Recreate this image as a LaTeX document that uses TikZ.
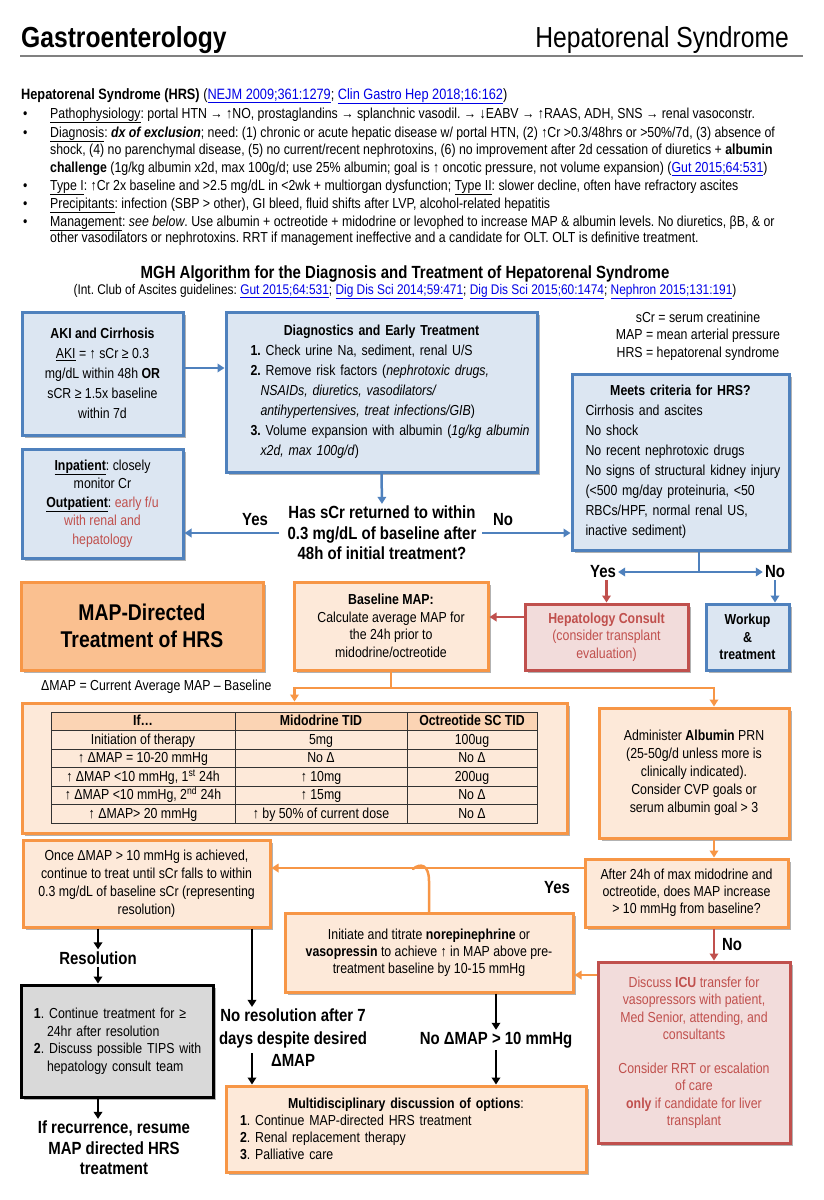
\documentclass[tikz,border=0pt]{standalone}
\usepackage{fontspec}
\setmainfont{Liberation Sans}[FakeStretch=0.85]
\usetikzlibrary{arrows.meta,shadows,calc}
\definecolor{blueB}{RGB}{79,129,189}
\definecolor{blueF}{RGB}{220,230,242}
\definecolor{orB}{RGB}{247,150,70}
\definecolor{orF}{RGB}{253,233,217}
\definecolor{orM}{RGB}{250,192,144}
\definecolor{orH}{RGB}{251,212,180}
\definecolor{redB}{RGB}{192,80,77}
\definecolor{redF}{RGB}{242,220,219}
\definecolor{redT}{RGB}{192,80,77}
\definecolor{grayF}{RGB}{217,217,217}
\definecolor{linkC}{RGB}{0,0,230}
\definecolor{ruleC}{RGB}{128,128,128}
\newcommand\fsz[2]{\fontsize{#1}{#2}\selectfont}
\newcommand\lnk[1]{\textcolor{linkC}{\underline{#1}}}
\frenchspacing
\begin{document}
\begin{tikzpicture}[x=1pt,y=-1pt,
  every node/.style={inner sep=0pt},
  box/.style={draw, line width=3pt, align=center, inner sep=0pt,
    drop shadow={shadow xshift=2.5pt,shadow yshift=-2.5pt,opacity=0.3,fill=black}},
  bluebox/.style={box, draw=blueB, fill=blueF},
  orbox/.style={box, draw=orB, fill=orF},
  redbox/.style={box, draw=redB, fill=redF, text=redT},
  graybox/.style={box, draw=black, fill=grayF},
  arr/.style={line width=2.5pt, -{Triangle[length=7pt,width=8.5pt]}},
  barr/.style={arr, draw=blueB},
  oarr/.style={arr, draw=orB},
  rarr/.style={arr, draw=redB},
  karr/.style={arr, draw=black},
  bline/.style={line width=2.5pt, draw=blueB},
  oline/.style={line width=2.5pt, draw=orB},
  lbl/.style={font=\fsz{17.6}{21.5}\bfseries, align=center, inner sep=2pt},
  btxt/.style={anchor=base west, font=\fsz{14.5}{18}},
  tcell/.style={font=\fsz{14.5}{16}, text height=10.5pt, text depth=3pt}
]
\useasboundingbox (0,0) rectangle (824,1200);
\fill[white] (0,0) rectangle (824,1200);

% ---------- header ----------
\node[anchor=base west, font=\fsz{29}{30}\bfseries] (gastro) at (21,47) {Gastroenterology};
\node[anchor=base east, font=\fsz{29}{30}] (hrstitle) at (789,47) {Hepatorenal Syndrome};
\draw[ruleC, line width=2pt] (20,56) -- (803,56);

\node[btxt, font=\fsz{15}{18}] (hrsline) at (21,99) {\textbf{Hepatorenal Syndrome (HRS)} (\lnk{NEJM 2009;361:1279}; \lnk{Clin Gastro Hep 2018;16:162})};

\node[btxt] (bu1) at (23,118) {•};
\node[btxt] (l1) at (50,118) {\underline{Pathophysiology}: portal HTN → ↑NO, prostaglandins → splanchnic vasodil. → ↓EABV → ↑RAAS, ADH, SNS → renal vasoconstr.};
\node[btxt] (bu2) at (23,137) {•};
\node[btxt] (l2) at (50,137) {\underline{Diagnosis}: \textbf{\textit{dx of exclusion}}; need: (1) chronic or acute hepatic disease w/ portal HTN, (2) ↑Cr >0.3/48hrs or >50\%/7d, (3) absence of};
\node[btxt] (l3) at (50,154) {shock, (4) no parenchymal disease, (5) no current/recent nephrotoxins, (6) no improvement after 2d cessation of diuretics + \textbf{albumin}};
\node[btxt] (l4) at (50,172) {\textbf{challenge} (1g/kg albumin x2d, max 100g/d; use 25\% albumin; goal is ↑ oncotic pressure, not volume expansion) (\lnk{Gut 2015;64:531})};
\node[btxt] (bu3) at (23,190) {•};
\node[btxt] (l5) at (50,190) {\underline{Type I}: ↑Cr 2x baseline and >2.5 mg/dL in <2wk + multiorgan dysfunction; \underline{Type II}: slower decline, often have refractory ascites};
\node[btxt] (bu4) at (23,208) {•};
\node[btxt] (l6) at (50,208) {\underline{Precipitants}: infection (SBP > other), GI bleed, fluid shifts after LVP, alcohol-related hepatitis};
\node[btxt] (bu5) at (23,226) {•};
\node[btxt] (l7) at (50,226) {\underline{Management}: \textit{see below}. Use albumin + octreotide + midodrine or levophed to increase MAP \& albumin levels. No diuretics, βB, \& or};
\node[btxt] (l8) at (50,242) {other vasodilators or nephrotoxins. RRT if management ineffective and a candidate for OLT. OLT is definitive treatment.};

% ---------- algorithm title ----------
\node[anchor=base, font=\fsz{17.6}{20}\bfseries] (algtitle) at (405,278) {MGH Algorithm for the Diagnosis and Treatment of Hepatorenal Syndrome};
\node[anchor=base, font=\fsz{14}{17}] (algsub) at (405,294) {(Int. Club of Ascites guidelines: \lnk{Gut 2015;64:531}; \lnk{Dig Dis Sci 2014;59:471}; \lnk{Dig Dis Sci 2015;60:1474}; \lnk{Nephron 2015;131:191})};

% ---------- blue section ----------
\node[bluebox, minimum width=161pt, minimum height=123pt, font=\fsz{14.5}{20}] (aki) at (102.5,373.5)
 {\textbf{AKI and Cirrhosis}\\\underline{AKI} = ↑ sCr ≥ 0.3\\mg/dL within 48h \textbf{OR}\\sCR ≥ 1.5x baseline\\within 7d};

\node[bluebox, minimum width=311pt, minimum height=160pt, text width=262pt, align=left, font=\fsz{14.5}{20}] (diag) at (381.5,392)
 {\makebox[\linewidth]{\textbf{Diagnostics and Early Treatment}}\\
  \mbox{\textbf{1.} Check urine Na, sediment, renal U/S}\\
  \mbox{\textbf{2.} Remove risk factors (\textit{nephrotoxic drugs,}}\\
  \mbox{\hspace*{10pt}\textit{NSAIDs, diuretics, vasodilators/}}\\
  \mbox{\hspace*{10pt}\textit{antihypertensives, treat infections/GIB})}\\
  \mbox{\textbf{3.} Volume expansion with albumin (\textit{1g/kg albumin}}\\
  \mbox{\hspace*{10pt}\textit{x2d, max 100g/d})}};

\node[font=\fsz{14.5}{17.5}, align=center] (legend) at (698,336)
 {sCr = serum creatinine\\MAP = mean arterial pressure\\HRS = hepatorenal syndrome};

\node[bluebox, minimum width=217pt, minimum height=176pt, text width=190pt, align=left, font=\fsz{14.5}{20}] (meets) at (680.5,462)
 {\makebox[\linewidth]{\textbf{Meets criteria for HRS?}}\\\mbox{Cirrhosis and ascites}\\\mbox{No shock}\\\mbox{No recent nephrotoxic drugs}\\\mbox{No signs of structural kidney injury}\\\mbox{(<500 mg/day proteinuria, <50}\\\mbox{RBCs/HPF, normal renal US,}\\\mbox{inactive sediment)}};

\node[bluebox, minimum width=161pt, minimum height=109pt, font=\fsz{14.5}{18.5}] (inpat) at (102.5,503.5)
 {\underline{\textbf{Inpatient}}: closely\\monitor Cr\\\underline{\textbf{Outpatient}}: \textcolor{redT}{early f/u}\\\textcolor{redT}{with renal and}\\\textcolor{redT}{hepatology}};

\node[lbl, font=\fsz{17.6}{20.5}\bfseries] (quest) at (382,533) {Has sCr returned to within\\0.3 mg/dL of baseline after\\48h of initial treatment?};
\node[lbl] (yes1) at (255,520) {Yes};
\node[lbl] (no1) at (503,520) {No};
\node[lbl] (yes2) at (603,572) {Yes};
\node[lbl] (no2) at (775,572) {No};

% ---------- orange section ----------
\node[box, draw=orB, fill=orM, minimum width=242pt, minimum height=88pt, font=\fsz{22.8}{27}\bfseries] (mapd) at (142,626) {MAP-Directed\\Treatment of HRS};
\node[orbox, minimum width=194pt, minimum height=88pt, font=\fsz{14.5}{17.5}] (basemap) at (391,626)
 {\textbf{Baseline MAP:}\\Calculate average MAP for\\the 24h prior to\\midodrine/octreotide};
\node[redbox, minimum width=163pt, minimum height=66pt, font=\fsz{14.5}{17.5}] (hep) at (606.5,637)
 {\textbf{Hepatology Consult}\\(consider transplant\\evaluation)};
\node[bluebox, minimum width=83pt, minimum height=66pt, font=\fsz{14.5}{17.5}\bfseries] (workup) at (747.5,637) {Workup\\\&\\treatment};

\node[anchor=west, font=\fsz{14.5}{17}] (dmap) at (41,687) {ΔMAP = Current Average MAP – Baseline};

\node[orbox, minimum width=545pt, minimum height=130pt] (tbox) at (294.5,768) {};
\fill[orH] (51,712) rectangle (537,730.5);
\draw[black!80, line width=0.9pt] (51,712) rectangle (537,823);
\foreach \yy in {730.5,749,767.5,786,804.5} \draw[black!80, line width=0.7pt] (51,\yy) -- (537,\yy);
\foreach \xx in {235,407} \draw[black!80, line width=0.7pt] (\xx,712) -- (\xx,823);
\node[tcell, font=\fsz{14.5}{16}\bfseries] (t00) at (143,722) {If…};
\node[tcell, font=\fsz{14.5}{16}\bfseries] (t01) at (321,722) {Midodrine TID};
\node[tcell, font=\fsz{14.5}{16}\bfseries] (t02) at (472,722) {Octreotide SC TID};
\node[tcell] (t10) at (143,740.5) {Initiation of therapy};
\node[tcell] (t11) at (321,740.5) {5mg};
\node[tcell] (t12) at (472,740.5) {100ug};
\node[tcell] (t20) at (143,759) {↑ ΔMAP = 10-20 mmHg};
\node[tcell] (t21) at (321,759) {No Δ};
\node[tcell] (t22) at (472,759) {No Δ};
\node[tcell] (t30) at (143,777.5) {↑ ΔMAP <10 mmHg, 1\textsuperscript{st} 24h};
\node[tcell] (t31) at (321,777.5) {↑ 10mg};
\node[tcell] (t32) at (472,777.5) {200ug};
\node[tcell] (t40) at (143,796) {↑ ΔMAP <10 mmHg, 2\textsuperscript{nd} 24h};
\node[tcell] (t41) at (321,796) {↑ 15mg};
\node[tcell] (t42) at (472,796) {No Δ};
\node[tcell] (t50) at (143,814.5) {↑ ΔMAP> 20 mmHg};
\node[tcell] (t51) at (321,814.5) {↑ by 50\% of current dose};
\node[tcell] (t52) at (472,814.5) {No Δ};

\node[orbox, minimum width=190pt, minimum height=130pt, font=\fsz{14.5}{18}] (alb) at (694,773)
 {Administer \textbf{Albumin} PRN\\(25-50g/d unless more is\\clinically indicated).\\Consider CVP goals or\\serum albumin goal > 3};
\node[orbox, minimum width=203pt, minimum height=68pt, font=\fsz{14.5}{17}] (after) at (686.5,893)
 {After 24h of max midodrine and\\octreotide, does MAP increase\\> 10 mmHg from baseline?};
\node[orbox, minimum width=247pt, minimum height=87pt, font=\fsz{14.5}{18}] (once) at (146.5,883.5)
 {Once ΔMAP > 10 mmHg is achieved,\\continue to treat until sCr falls to within\\0.3 mg/dL of baseline sCr (representing\\resolution)};
\node[orbox, minimum width=288pt, minimum height=79pt, font=\fsz{14.5}{17}] (norepi) at (429,952.5)
 {Initiate and titrate \textbf{norepinephrine} or\\\textbf{vasopressin} to achieve ↑ in MAP above pre-\\treatment baseline by 10-15 mmHg};
\node[redbox, minimum width=192pt, minimum height=181pt, font=\fsz{14.5}{17.5}] (icu) at (694,1052.5)
 {Discuss \textbf{ICU} transfer for\\vasopressors with patient,\\Med Senior, attending, and\\consultants\\[16pt]Consider RRT or escalation\\of care\\\textbf{only} if candidate for liver\\transplant};
\node[graybox, minimum width=192pt, minimum height=112pt, text width=166pt, align=left, font=\fsz{14.5}{17.5}] (grayb) at (117,1041)
 {\mbox{\textbf{1}. Continue treatment for ≥}\\\mbox{\hspace*{13pt}24hr after resolution}\\\mbox{\textbf{2}. Discuss possible TIPS with}\\\mbox{\hspace*{13pt}hepatology consult team}};
\node[orbox, minimum width=360pt, minimum height=86pt, text width=332pt, align=left, font=\fsz{14.5}{17}] (multi) at (406,1129)
 {\makebox[\linewidth]{\textbf{Multidisciplinary discussion of options}:}\\\mbox{\textbf{1}. Continue MAP-directed HRS treatment}\\\mbox{\textbf{2}. Renal replacement therapy}\\\mbox{\textbf{3}. Palliative care}};

\node[lbl] (yes3) at (557,888) {Yes};
\node[lbl] (no3) at (732,945) {No};
\node[lbl] (reslab) at (98,958) {Resolution};
\node[lbl, font=\fsz{17.6}{20.5}\bfseries] (recur) at (114,1148) {If recurrence, resume\\MAP directed HRS\\treatment};
\node[lbl, font=\fsz{17.6}{22.5}\bfseries] (nores) at (293,1038) {No resolution after 7\\days despite desired\\ΔMAP};
\node[lbl] (nomap) at (496,1040) {No ΔMAP > 10 mmHg};

% ---------- connectors ----------
\coordinate (yA) at (0,368);
\draw[barr] (aki.east |- yA) -- (diag.west |- yA);
\draw[barr] (diag.south) -- (quest.north);
\coordinate (qyes) at (279,533);
\coordinate (qno) at (482,533);
\draw[barr] (qyes) -- (qyes -| inpat.east);
\draw[barr] (qno) -- (qno -| meets.west);
\coordinate (split) at (699,572);
\draw[bline] (split |- meets.south) -- (split);
\draw[barr] (split) -- (yes2.east);
\draw[barr] (split) -- (no2.west);
\draw[rarr] (yes2.south -| hep.north) -- (hep.north);
\draw[barr] (no2.south) -- (no2.south |- workup.north);
\coordinate (yE) at (0,617);
\draw[rarr] (hep.west |- yE) -- (basemap.east |- yE);
\coordinate (j1) at (391,688);
\coordinate (j2) at (714,688);
\draw[oline] (basemap.south) -- (j1);
\draw[oarr] (j1) -| (tbox.north);
\draw[oarr] (j1) -- (j2) -- (j2 |- alb.north);
\draw[oarr] (j2 |- alb.south) -- (j2 |- after.north);
\coordinate (yH) at (0,868);
\draw[oarr] (after.west |- yH) -- (once.east |- yH);
\draw[oline, line cap=round] (norepi.north) -- (429,881) .. controls (429,864) and (420,863) .. (413,869);
\coordinate (yK) at (0,975);
\draw[oarr] (icu.west |- yK) -- (norepi.east |- yK);
\draw[rarr] (j2 |- after.south) -- (j2 |- icu.north);
\draw[karr] (nomap.north |- norepi.south) -- (nomap.north);
\draw[karr] (nomap.south) -- (nomap.south |- multi.north);
\draw[karr] (reslab.north |- once.south) -- (reslab.north);
\draw[karr] (reslab.south) -- (reslab.south |- grayb.north);
\draw[karr] (reslab.south |- grayb.south) -- (reslab.south |- recur.north);
\coordinate (nx) at (252,1053);
\draw[karr] (nx |- once.south) -- (nx |- nores.north);
\draw[karr] (nx) -- (nx |- multi.north);
\end{tikzpicture}
\end{document}
